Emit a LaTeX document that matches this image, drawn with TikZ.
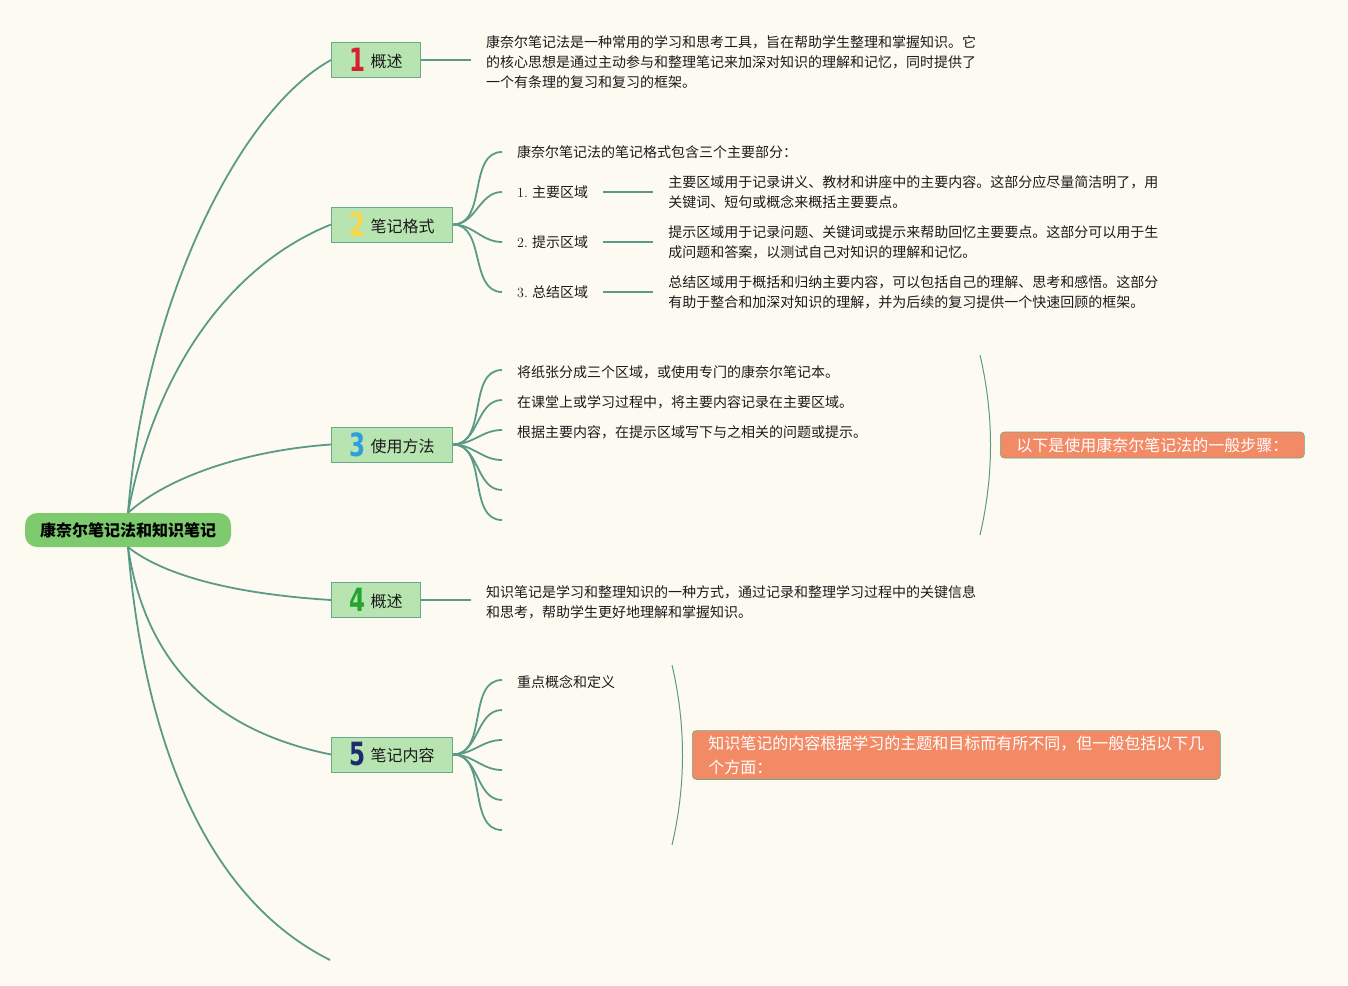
\documentclass[tikz,border=0pt]{standalone}
\usepackage{fontspec}
\newfontfamily\cjk{Noto Sans CJK SC}
\newfontfamily\numfont{DejaVu Sans}
\usetikzlibrary{positioning}

\definecolor{bgcol}{HTML}{FDFBF1}
\definecolor{linecol}{HTML}{5B9A86}
\definecolor{boxline}{HTML}{6AA88F}
\definecolor{boxfill}{HTML}{B7E4B0}
\definecolor{rootfill}{HTML}{7DCA6F}
\definecolor{orangefill}{HTML}{F28A66}
\definecolor{textcol}{HTML}{1A1A1A}
\definecolor{numa}{HTML}{D4202F}
\definecolor{numb}{HTML}{F7D64A}
\definecolor{numc}{HTML}{2A9FDB}
\definecolor{numd}{HTML}{25A22F}
\definecolor{nume}{HTML}{1E2C6E}

\newcommand{\bignum}[2]{{\color{#1}\raisebox{-4pt}{\scalebox{0.72}[1]{\numfont\bfseries\fontsize{32}{32}\selectfont #2}}}\hspace{5pt}}

\begin{document}
\begin{tikzpicture}[x=1pt, y=-1pt,
    root/.style={fill=rootfill, rounded corners=12pt, minimum width=206pt, minimum height=34pt,
      text=black, font=\cjk\bfseries\fontsize{16}{16}\selectfont},
    branch/.style={draw=boxline, fill=boxfill, line width=1pt, minimum height=35pt, inner xsep=18pt,
      inner ysep=0pt, anchor=west, text=textcol, font=\cjk\fontsize{16}{16}\selectfont},
    leaf/.style={anchor=west, inner xsep=15pt, inner ysep=1pt, align=left, text=textcol,
      yshift=-2pt, font=\cjk\fontsize{14}{20}\selectfont},
    note/.style={fill=orangefill, draw=boxline, line width=0.6pt, rounded corners=4pt, text=white,
      anchor=west, inner xsep=16pt, inner ysep=5pt, minimum height=26pt, align=left,
      font=\cjk\fontsize{16}{24}\selectfont},
    link/.style={draw=linecol, line width=1.8pt},
    brace/.style={draw=linecol, line width=1pt}]

    \useasboundingbox (0,0) rectangle (1348,985);
    \fill[bgcol] (0,0) rectangle (1348,985);

    \node[root] (root) at (128,530) {康奈尔笔记法和知识笔记};

    \node[branch] (b1) at (331,60) {\bignum{numa}{1}概述};
    \node[branch] (b2) at (331,224.5) {\bignum{numb}{2}笔记格式};
    \node[branch] (b3) at (331,444.5) {\bignum{numc}{3}使用方法};
    \node[branch] (b4) at (331,600) {\bignum{numd}{4}概述};
    \node[branch] (b5) at (331,754.5) {\bignum{nume}{5}笔记内容};
    \coordinate (b6) at (330,960);

    % root to branches
    \draw[link] (root.north) .. controls (145,300) and (240,110) .. (b1.west);
    \draw[link] (root.north) .. controls (155,370) and (230,265) .. (b2.west);
    \draw[link] (root.north) .. controls (170,475) and (250,450) .. (b3.west);
    \draw[link] (root.south) .. controls (170,580) and (250,595) .. (b4.west);
    \draw[link] (root.south) .. controls (145,660) and (210,730) .. (b5.west);
    \draw[link] (root.south) .. controls (145,750) and (210,900) .. (b6);

    % 1
    \node[leaf, right=50pt of b1] (t1) {康奈尔笔记法是一种常用的学习和思考工具，旨在帮助学生整理和掌握知识。它\\
      的核心思想是通过主动参与和整理笔记来加深对知识的理解和记忆，同时提供了\\
      一个有条理的复习和复习的框架。};
    \draw[link] (b1.east) -- (b1.east -| t1.west);

    % 2
    \node[leaf] (l20) at (502,150) {康奈尔笔记法的笔记格式包含三个主要部分：};
    \foreach \n/\y/\lab in {1/190/主要区域, 2/240/提示区域, 3/290/总结区域} {
        \node[leaf] (l2\n) at (502,\y) {{\rmfamily\n.} \lab};
    }
    \node[leaf, right=50pt of l21, yshift=2pt] (d21) {主要区域用于记录讲义、教材和讲座中的主要内容。这部分应尽量简洁明了，用\\
      关键词、短句或概念来概括主要要点。};
    \node[leaf, right=50pt of l22, yshift=2pt] (d22) {提示区域用于记录问题、关键词或提示来帮助回忆主要要点。这部分可以用于生\\
      成问题和答案，以测试自己对知识的理解和记忆。};
    \node[leaf, right=50pt of l23, yshift=2pt] (d23) {总结区域用于概括和归纳主要内容，可以包括自己的理解、思考和感悟。这部分\\
      有助于整合和加深对知识的理解，并为后续的复习提供一个快速回顾的框架。};
    \foreach \n in {0,...,3} {
        \draw[link] (b2.east) to[out=0,in=180] (l2\n.west);
    }
    \foreach \n in {1,2,3} {
        \draw[link] (l2\n.east) -- (l2\n.east -| d2\n.west);
    }

    % 3
    \foreach \y [count=\i] in {370,400,430,460,490,520} {
        \coordinate (f3\i) at (502,\y);
        \draw[link] (b3.east) to[out=0,in=180] (f3\i);
    }
    \node[leaf] (l31) at (f31) {将纸张分成三个区域，或使用专门的康奈尔笔记本。};
    \node[leaf] (l32) at (f32) {在课堂上或学习过程中，将主要内容记录在主要区域。};
    \node[leaf] (l33) at (f33) {根据主要内容，在提示区域写下与之相关的问题或提示。};
    \coordinate (k3a) at (980,355);
    \coordinate (k3b) at (980,535);
    \draw[brace] (k3a) .. controls (994,415) and (994,475) .. (k3b);
    \node[note] (n3) at (1000,445) {以下是使用康奈尔笔记法的一般步骤：};

    % 4
    \node[leaf, right=50pt of b4] (t4) {知识笔记是学习和整理知识的一种方式，通过记录和整理学习过程中的关键信息\\
      和思考，帮助学生更好地理解和掌握知识。};
    \draw[link] (b4.east) -- (b4.east -| t4.west);

    % 5
    \foreach \y [count=\i] in {680,710,740,770,800,830} {
        \coordinate (f5\i) at (502,\y);
        \draw[link] (b5.east) to[out=0,in=180] (f5\i);
    }
    \node[leaf] (l51) at (f51) {重点概念和定义};
    \coordinate (k5a) at (672,665);
    \coordinate (k5b) at (672,845);
    \draw[brace] (k5a) .. controls (686,725) and (686,785) .. (k5b);
    \node[note] (n5) at (692,755) {知识笔记的内容根据学习的主题和目标而有所不同，但一般包括以下几\\
      个方面：};

\end{tikzpicture}
\end{document}
